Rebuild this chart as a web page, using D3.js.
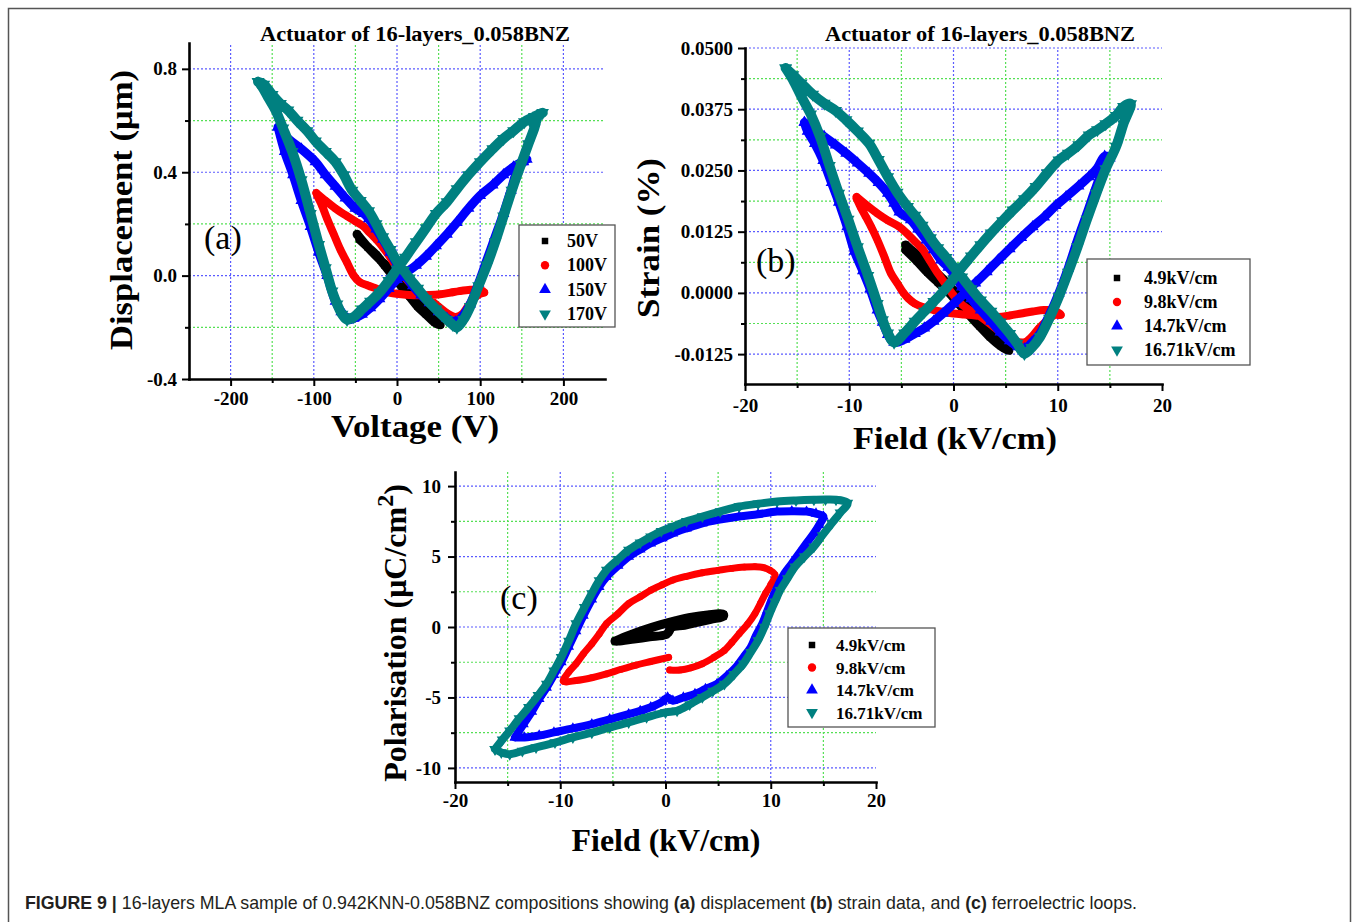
<!DOCTYPE html>
<html>
<head>
<meta charset="utf-8">
<script src="https://cdn.jsdelivr.net/npm/d3@7"></script>
<style>
  html, body { margin: 0; padding: 0; background: #fff; }
  svg { display: block; }
</style>
</head>
<body>
<svg id="fig" width="1357" height="922"></svg>
<script>
// ---------- data ----------
const voltageNames = ["50V", "100V", "150V", "170V"];
const fieldNames = ["4.9kV/cm", "9.8kV/cm", "14.7kV/cm", "16.71kV/cm"];
const seriesColors = ["#000000", "#ff0000", "#0000ff", "#008080"];

// (a) displacement (µm) vs voltage (V)
const disp50 = [[-48,0.16],[-35,0.11],[-20,0.06],[-10,0.03],[0,-0.01],[10,-0.05],[20,-0.09],[30,-0.12],[40,-0.15],[50,-0.18],[52,-0.19],
  [45,-0.18],[35,-0.15],[25,-0.12],[15,-0.08],[5,-0.04],[-5,0.0],[-15,0.04],[-25,0.08],[-35,0.11],[-45,0.14]];
const disp100 = [[-97,0.32],[-86,0.29],[-74,0.26],[-60,0.23],[-50,0.21],[-40,0.19],[-34,0.17],[-25,0.14],[-17,0.11],[-8,0.07],[0,0.03],[10,-0.01],
  [19,-0.04],[30,-0.07],[39,-0.09],[50,-0.12],[60,-0.145],[70,-0.16],[78,-0.15],[85,-0.12],[92,-0.09],[100,-0.07],[105,-0.065],[100,-0.055],
  [88,-0.055],[75,-0.06],[64,-0.066],[52,-0.072],[39,-0.075],[25,-0.076],[15,-0.075],[5,-0.072],[-5,-0.068],[-15,-0.062],[-25,-0.05],
  [-35,-0.038],[-45,-0.025],[-52,0.0],[-60,0.05],[-68,0.1],[-76,0.16],[-84,0.22],[-90,0.27],[-96,0.31]];
const disp150 = [[-143,0.575],[-131,0.53],[-115,0.49],[-98,0.44],[-86,0.39],[-74,0.345],[-62,0.3],[-50,0.26],[-40,0.24],[-34,0.22],[-25,0.18],
  [-17,0.14],[-8,0.09],[0,0.045],[10,0.0],[19,-0.04],[29,-0.075],[39,-0.105],[50,-0.14],[60,-0.165],[70,-0.18],[78,-0.16],[88,-0.11],
  [98,-0.03],[108,0.06],[118,0.15],[128,0.24],[137,0.33],[145,0.41],[152,0.44],[156,0.45],[150,0.44],[140,0.42],[128,0.39],[115,0.35],
  [100,0.31],[86,0.26],[72,0.205],[60,0.16],[47,0.115],[35,0.075],[23,0.04],[10,0.01],[0,-0.015],[-10,-0.05],[-21,-0.09],[-32,-0.125],
  [-42,-0.15],[-52,-0.165],[-58,-0.17],[-67,-0.14],[-74,-0.1],[-84,0.0],[-94,0.09],[-104,0.19],[-115,0.29],[-125,0.39],[-135,0.48],[-143,0.575]];
const disp170 = [[-167,0.75],[-160,0.74],[-150,0.7],[-140,0.665],[-131,0.64],[-120,0.6],[-108,0.56],[-98,0.52],[-86,0.48],[-74,0.44],
  [-64,0.39],[-54,0.33],[-44,0.29],[-34,0.25],[-25,0.2],[-17,0.15],[-8,0.1],[0,0.055],[8,0.02],[15,-0.01],[25,-0.05],[35,-0.09],[47,-0.13],
  [60,-0.17],[67,-0.19],[72,-0.2],[80,-0.17],[88,-0.12],[98,-0.04],[108,0.04],[118,0.13],[128,0.23],[138,0.33],[149,0.43],[158,0.51],
  [165,0.57],[170,0.62],[175,0.63],[165,0.615],[153,0.595],[140,0.56],[128,0.53],[115,0.49],[100,0.44],[86,0.39],[72,0.335],[60,0.285],
  [47,0.24],[35,0.185],[23,0.13],[10,0.07],[0,0.025],[-10,-0.02],[-21,-0.065],[-32,-0.1],[-42,-0.13],[-52,-0.16],[-60,-0.17],[-66,-0.15],
  [-72,-0.11],[-78,-0.06],[-86,0.03],[-94,0.12],[-104,0.24],[-115,0.37],[-126,0.48],[-137,0.57],[-146,0.64],[-155,0.69],[-162,0.73],[-167,0.75]];

// (b) strain (%) vs field (kV/cm)
const strain49 = [[-4.6,0.0098],[-3.8,0.0083],[-3,0.0068],[-2,0.0048],[-1,0.0028],[0,0.0005],[1,-0.0015],[2,-0.0038],[3,-0.006],[4,-0.0085],
  [5,-0.011],[5.3,-0.0118],[4.5,-0.0108],[3.5,-0.009],[2.5,-0.0068],[1.5,-0.0045],[0.5,-0.0022],[-0.5,0.0002],[-1.5,0.0022],[-2.5,0.0042],
  [-3.5,0.0065],[-4.6,0.0088]];
const strain98 = [[-9.3,0.0196],[-8.4,0.018],[-7.3,0.0162],[-6.3,0.0148],[-5.2,0.0135],[-4.4,0.012],[-3.7,0.0105],[-3,0.009],[-2.3,0.0067],
  [-1.5,0.004],[-0.8,0.0019],[0,-0.0005],[0.7,-0.0022],[1.4,-0.0033],[2.1,-0.0042],[3,-0.0055],[3.9,-0.007],[4.8,-0.0085],[5.7,-0.0097],
  [6.8,-0.0101],[7.5,-0.009],[8.2,-0.0072],[9,-0.0056],[9.7,-0.0045],[10.3,-0.0045],[9.6,-0.0036],[8.7,-0.0035],[7.6,-0.0038],[6.5,-0.0042],
  [5.4,-0.0046],[4.3,-0.0049],[3.2,-0.0048],[2.1,-0.0046],[1,-0.0044],[0,-0.0042],[-1,-0.0039],[-1.9,-0.0035],[-2.8,-0.003],[-3.7,-0.0022],
  [-4.3,-0.0012],[-4.8,0.0],[-5.4,0.002],[-6,0.004],[-6.6,0.0072],[-7.3,0.0108],[-7.9,0.0135],[-8.4,0.0155],[-8.9,0.0175],[-9.3,0.0193]];
const strain147 = [[-14.3,0.0348],[-13.4,0.0335],[-12.4,0.0319],[-11.3,0.0302],[-10.3,0.0285],[-9.2,0.0265],[-8.1,0.0244],[-7.2,0.0225],
  [-6.3,0.0203],[-5.7,0.0183],[-5.2,0.0165],[-4.1,0.0149],[-3.4,0.013],[-2.6,0.0108],[-1.9,0.0088],[-1.2,0.0067],[-0.5,0.0052],[0,0.004],
  [0.8,0.0012],[1.7,-0.0012],[2.6,-0.0035],[3.6,-0.0058],[4.5,-0.008],[5.4,-0.0098],[6.2,-0.011],[6.8,-0.0114],[7.5,-0.0102],[8.3,-0.0083],
  [9.2,-0.0045],[10.1,-0.0001],[11,0.005],[11.9,0.0108],[12.8,0.0162],[13.7,0.0217],[14.4,0.0255],[15,0.0275],[14.5,0.0279],[13.8,0.0255],
  [13,0.0237],[12,0.0218],[10.8,0.0196],[9.8,0.0178],[8.7,0.0155],[7.6,0.0135],[6.5,0.0113],[5.4,0.009],[4.3,0.0067],[3.2,0.0043],
  [2.1,0.002],[1,-0.0002],[0,-0.0022],[-1,-0.0042],[-1.9,-0.0058],[-2.8,-0.0072],[-3.7,-0.0083],[-4.7,-0.0095],[-5.7,-0.0101],[-6.3,-0.0085],
  [-6.8,-0.006],[-7.3,-0.0035],[-8,0.0008],[-8.7,0.0045],[-9.5,0.0085],[-10.2,0.0135],[-11,0.0185],[-11.7,0.0225],[-12.5,0.027],
  [-13.3,0.0305],[-14,0.033],[-14.3,0.0348]];
const strain1671 = [[-16.1,0.0459],[-15.4,0.0445],[-14.6,0.0428],[-13.5,0.0405],[-12.4,0.0387],[-11.3,0.0372],[-10.3,0.0353],[-9.2,0.033],
  [-8.1,0.0305],[-7.2,0.0272],[-6.3,0.0237],[-5.4,0.0205],[-4.4,0.0176],[-3.7,0.0158],[-3,0.0138],[-2.2,0.0112],[-1.5,0.0092],[-0.7,0.0072],
  [0,0.0053],[0.8,0.0032],[1.7,0.0008],[2.6,-0.0015],[3.6,-0.0038],[4.5,-0.006],[5.4,-0.0083],[6.1,-0.0103],[6.8,-0.0124],[7.5,-0.0112],
  [8.3,-0.009],[9.2,-0.0052],[10.1,-0.0008],[11,0.0042],[11.9,0.0094],[12.8,0.015],[13.7,0.0203],[14.6,0.0253],[15.6,0.0299],[16.3,0.0345],
  [17,0.0386],[16.3,0.038],[15.6,0.0362],[14.6,0.0345],[13.8,0.0333],[13,0.0322],[12,0.0302],[11,0.0285],[10.1,0.0271],[9,0.0245],
  [7.9,0.0217],[6.8,0.0192],[5.7,0.0169],[4.7,0.0147],[3.6,0.0122],[2.6,0.0098],[1.7,0.0075],[0.8,0.0052],[0,0.0028],[-0.9,0.0005],
  [-1.9,-0.0018],[-2.8,-0.0038],[-3.7,-0.0058],[-4.7,-0.0082],[-5.7,-0.0101],[-6.3,-0.0082],[-6.8,-0.0055],[-7.3,-0.0022],[-8.2,0.0035],
  [-9.2,0.0094],[-10.1,0.015],[-11,0.0203],[-11.9,0.026],[-12.8,0.0319],[-13.7,0.0365],[-14.6,0.0401],[-15.4,0.0435],[-16.1,0.0459]];

// (c) polarisation (µC/cm²) vs field (kV/cm)
const pol49 = [[-4.8,-1.0],[-3.5,-0.6],[-2,-0.2],[-0.5,0.15],[1,0.45],[2.5,0.7],[4,0.85],[5.5,0.9],[5.5,0.75],[4.3,0.55],[3,0.32],
  [1.8,0.12],[0.6,-0.02],[0.3,-0.35],[0,-0.55],[-1.5,-0.7],[-3,-0.85],[-4.5,-1.0],[-4.8,-1.0]];
const pol98 = [[0.3,-2.15],[-1.4,-2.45],[-2.8,-2.7],[-4.2,-3.0],[-5.6,-3.33],[-7,-3.6],[-8.5,-3.8],[-9.7,-3.85],[-9.2,-3.2],[-8.5,-2.61],
  [-7.8,-1.9],[-7,-1.19],[-6.3,-0.5],[-5.6,0.24],[-4.5,0.95],[-3.5,1.66],[-2.4,2.15],[-1.4,2.61],[-0.3,3.0],[0.7,3.33],[2,3.6],[3.5,3.85],
  [5,4.02],[6.3,4.16],[7.5,4.25],[8.5,4.28],[9.4,4.2],[9.9,4.04],[10.4,3.7],[10,3.0],[9.5,2.38],[9,1.65],[8.5,0.95],[7.8,0.2],[7,-0.48],
  [6.3,-1.1],[5.6,-1.66],[4.6,-2.15],[3.5,-2.61],[2.4,-2.9],[1.4,-3.05],[0.4,-3.05]];
const pol147 = [[-14.3,-7.84],[-13.5,-6.9],[-12.7,-6.0],[-12,-5.1],[-11.3,-4.3],[-10.6,-3.4],[-9.9,-2.5],[-9.2,-1.4],[-8.5,-0.3],[-7.8,0.8],
  [-7,1.95],[-6.3,2.85],[-5.6,3.56],[-4.5,4.35],[-3.5,4.99],[-2.4,5.5],[-1.4,5.94],[-0.3,6.3],[0.7,6.65],[2,7.0],[3.5,7.36],[5,7.6],[7,7.84],
  [8.8,8.0],[10.6,8.19],[12,8.22],[13.4,8.19],[14.3,8.05],[15,7.84],[14.6,7.25],[14.1,6.65],[13.4,5.95],[12.7,5.23],[12,4.5],[11.3,3.8],
  [10.7,2.95],[10.2,2.14],[9.7,1.2],[9.2,0.24],[8.6,-0.6],[8.1,-1.43],[7.4,-2.15],[6.7,-2.85],[5.8,-3.5],[4.9,-4.04],[3.8,-4.4],[2.8,-4.75],
  [1.7,-5.0],[0.7,-5.23],[0.2,-5.0],[-0.3,-5.3],[-1.4,-5.7],[-2.4,-5.95],[-3.5,-6.18],[-5.3,-6.55],[-7,-6.89],[-8.8,-7.2],[-10.6,-7.48],
  [-12,-7.7],[-13.4,-7.84],[-14.3,-7.84]];
const pol1671 = [[-16.2,-8.67],[-15.5,-8.0],[-14.8,-7.36],[-13.9,-6.5],[-13,-5.7],[-12.1,-4.85],[-11.3,-4.04],[-10.6,-3.1],[-9.9,-2.14],
  [-9.2,-1.0],[-8.5,0.24],[-7.7,1.4],[-7,2.38],[-6.3,3.3],[-5.6,4.04],[-4.5,4.8],[-3.5,5.46],[-2.4,5.98],[-1.4,6.41],[-0.4,6.8],[0.7,7.13],
  [2,7.5],[3.5,7.84],[5.2,8.2],[7,8.55],[8.8,8.75],[10.6,8.9],[12.4,8.98],[14.1,9.03],[15.2,9.05],[16.2,9.03],[17.3,8.8],[16.6,8.1],
  [15.8,7.36],[14.9,6.5],[14.1,5.7],[13.2,5.0],[12.3,4.28],[11.6,3.45],[10.9,2.61],[10.4,1.8],[9.9,0.95],[9.4,0.0],[8.8,-0.95],[8.1,-1.8],
  [7.4,-2.61],[6.5,-3.35],[5.6,-4.04],[4.5,-4.55],[3.5,-4.99],[2.3,-5.5],[1.1,-5.94],[0,-6.06],[-1.8,-6.41],[-3.5,-6.77],[-5.3,-7.13],
  [-7,-7.5],[-8.8,-7.84],[-10.5,-8.2],[-12.3,-8.55],[-13.6,-8.8],[-14.8,-9.03],[-15.6,-8.9],[-16.2,-8.67]];

// axis ticks
const voltTicks = [-200, -100, 0, 100, 200];
const voltMinor = [-150, -50, 50, 150];
const dispTicks = [-0.4, 0.0, 0.4, 0.8];
const dispMinor = [-0.2, 0.2, 0.6];
const fieldTicks = [-20, -10, 0, 10, 20];
const fieldMinor = [-15, -5, 5, 15];
const strainTicks = [-0.0125, 0, 0.0125, 0.025, 0.0375, 0.05];
const strainMinor = [-0.00625, 0.00625, 0.01875, 0.03125, 0.04375];
const polTicks = [-10, -5, 0, 5, 10];
const polMinor = [-7.5, -2.5, 2.5, 7.5];

const captionParts = [
  ["FIGURE 9 |", true], [" 16-layers MLA sample of 0.942KNN-0.058BNZ compositions showing ", false],
  ["(a)", true], [" displacement ", false], ["(b)", true], [" strain data, and ", false],
  ["(c)", true], [" ferroelectric loops.", false]
];

// ---------- drawing ----------
const svg = d3.select("#fig");
const SERIF = "'Liberation Serif','Times New Roman',serif";
const GRID_BLUE = "#5b5bff";
const GRID_GREEN = "#55e055";

svg.append("rect").attr("width", 1357).attr("height", 922).attr("fill", "#fff");
svg.append("rect")
  .attr("x", 8.5).attr("y", 8.5).attr("width", 1342).attr("height", 940)
  .attr("fill", "none").attr("stroke", "#555").attr("stroke-width", 1.5);

function symbolFor(i, size) {
  const types = [d3.symbolSquare, d3.symbolCircle, d3.symbolTriangle, d3.symbolTriangle];
  return d3.symbol().type(types[i]).size(size)();
}

function drawPanel(p) {
  const x = d3.scaleLinear().domain(p.xDomain).range(p.xRange);
  const y = d3.scaleLinear().domain(p.yDomain).range(p.yRange);
  const g = svg.append("g");
  const [y0, y1] = p.yRange;
  const [x0, x1] = p.xRange;

  // dotted grid: blue on major ticks, green on minor ticks
  const grid = g.append("g").attr("stroke-width", 1.2).attr("stroke-dasharray", "2,2");
  grid.selectAll(".vmaj").data(p.xTicks.filter(v => x(v) > x0 + 1 && x(v) < x1 - 1)).join("line")
    .attr("x1", d => x(d)).attr("x2", d => x(d)).attr("y1", y0).attr("y2", y1).attr("stroke", GRID_BLUE);
  grid.selectAll(".vmin").data(p.xMinor).join("line")
    .attr("x1", d => x(d)).attr("x2", d => x(d)).attr("y1", y0).attr("y2", y1).attr("stroke", GRID_GREEN);
  grid.selectAll(".hmaj").data(p.yTicks.filter(v => y(v) < y0 - 1)).join("line")
    .attr("y1", d => y(d)).attr("y2", d => y(d)).attr("x1", x0).attr("x2", x1).attr("stroke", GRID_BLUE);
  grid.selectAll(".hmin").data(p.yMinor).join("line")
    .attr("y1", d => y(d)).attr("y2", d => y(d)).attr("x1", x0).attr("x2", x1).attr("stroke", GRID_GREEN);

  // loops: thick band + markers at every point
  const line = d3.line().x(d => x(d[0])).y(d => y(d[1])).curve(d3.curveCatmullRom.alpha(0.5));
  p.series.forEach((s, i) => {
    const sg = g.append("g");
    sg.append("path").attr("d", line(s))
      .attr("fill", "none").attr("stroke", seriesColors[i])
      .attr("stroke-width", p.band[i]).attr("stroke-linejoin", "round").attr("stroke-linecap", "round");
    sg.selectAll("path.m").data(s).join("path").attr("class", "m")
      .attr("transform", d => `translate(${x(d[0])},${y(d[1])})` + (i === 3 ? " rotate(180)" : ""))
      .attr("d", symbolFor(i, p.markerSize[i]))
      .attr("fill", seriesColors[i]);
  });

  // axes
  const styleAxis = sel => {
    sel.select(".domain").attr("stroke", "#000").attr("stroke-width", 2.6).attr("stroke-linecap", "square");
    sel.selectAll(".tick line").attr("stroke", "#000").attr("stroke-width", 2);
    sel.selectAll(".tick text").attr("font-family", SERIF).attr("font-weight", "bold")
      .attr("font-size", p.tickFont).attr("fill", "#000");
  };
  g.append("g").attr("transform", `translate(0,${y0})`)
    .call(d3.axisBottom(x).tickValues(p.xMinor).tickSize(4).tickSizeOuter(0).tickFormat(""))
    .call(s => { s.select(".domain").remove(); s.selectAll(".tick line").attr("stroke", "#000").attr("stroke-width", 2); });
  g.append("g").attr("transform", `translate(${x0},0)`)
    .call(d3.axisLeft(y).tickValues(p.yMinor).tickSize(4).tickSizeOuter(0).tickFormat(""))
    .call(s => { s.select(".domain").remove(); s.selectAll(".tick line").attr("stroke", "#000").attr("stroke-width", 2); });
  g.append("g").attr("transform", `translate(0,${y0})`)
    .call(d3.axisBottom(x).tickValues(p.xTicks).tickSize(7).tickSizeOuter(0).tickPadding(p.xPad).tickFormat(p.xFmt))
    .call(styleAxis);
  g.append("g").attr("transform", `translate(${x0},0)`)
    .call(d3.axisLeft(y).tickValues(p.yTicks).tickSize(7).tickSizeOuter(0).tickPadding(p.yPad).tickFormat(p.yFmt))
    .call(styleAxis);

  // title
  if (p.title) {
    g.append("text").attr("x", p.title.x).attr("y", p.title.y).attr("text-anchor", "middle")
      .attr("font-family", SERIF).attr("font-weight", "bold").attr("font-size", 20)
      .attr("textLength", p.title.len).attr("lengthAdjust", "spacingAndGlyphs")
      .text(p.title.text);
  }
  // axis titles
  g.append("text").attr("x", p.xLabel.x).attr("y", p.xLabel.y).attr("text-anchor", "middle")
    .attr("font-family", SERIF).attr("font-weight", "bold").attr("font-size", 32)
    .attr("textLength", p.xLabel.len).attr("lengthAdjust", "spacingAndGlyphs")
    .text(p.xLabel.text);
  const yl = g.append("text")
    .attr("transform", `translate(${p.yLabel.x},${p.yLabel.y}) rotate(-90)`)
    .attr("text-anchor", "middle").attr("font-family", SERIF).attr("font-weight", "bold").attr("font-size", 32);
  if (p.yLabel.sup) {
    yl.append("tspan").text(p.yLabel.text);
    yl.append("tspan").attr("font-size", 24).attr("dy", -13).text(p.yLabel.sup);
    yl.append("tspan").attr("dy", 13).text(p.yLabel.after);
  } else {
    yl.attr("textLength", p.yLabel.len).attr("lengthAdjust", "spacingAndGlyphs").text(p.yLabel.text);
  }
  // panel letter
  g.append("text").attr("x", p.letter.x).attr("y", p.letter.y)
    .attr("font-family", SERIF).attr("font-size", 34).text(p.letter.text);

  // legend
  const L = p.legend;
  const lg = g.append("g");
  lg.append("rect").attr("x", L.x).attr("y", L.y).attr("width", L.w).attr("height", L.h)
    .attr("fill", "#fff").attr("stroke", "#555").attr("stroke-width", 1.3);
  L.names.forEach((name, i) => {
    const cy = L.y + L.first + i * L.step;
    lg.append("path")
      .attr("transform", `translate(${L.x + L.sym},${cy})` + (i === 3 ? " rotate(180)" : ""))
      .attr("d", symbolFor(i, [42, 55, 60, 60][i])).attr("fill", seriesColors[i]);
    lg.append("text").attr("x", L.x + L.txt).attr("y", cy + 6)
      .attr("font-family", SERIF).attr("font-weight", "bold").attr("font-size", L.font).text(name);
  });
}

// (a)
drawPanel({
  xDomain: [-250, 250], xRange: [189, 605],
  yDomain: [-0.4, 0.9], yRange: [379, 43],
  xTicks: voltTicks, xMinor: voltMinor, yTicks: dispTicks, yMinor: dispMinor,
  xFmt: d => String(d), yFmt: d => d.toFixed(1), xPad: 6, yPad: 5, tickFont: 19,
  series: [disp50, disp100, disp150, disp170], band: [9, 8, 9, 10], markerSize: [45, 40, 60, 70],
  title: { text: "Actuator of 16-layers_0.058BNZ", x: 415, y: 41, len: 310 },
  xLabel: { text: "Voltage (V)", x: 415, y: 437, len: 168 },
  yLabel: { text: "Displacement (μm)", x: 132, y: 210, len: 280 },
  letter: { text: "(a)", x: 204, y: 249 },
  legend: { x: 519, y: 225, w: 96, h: 102, first: 16, step: 24.3, sym: 26, txt: 48, font: 18, names: voltageNames }
});

// (b)
drawPanel({
  xDomain: [-20, 20], xRange: [745, 1162],
  yDomain: [-0.0186, 0.05], yRange: [384, 48],
  xTicks: fieldTicks, xMinor: fieldMinor, yTicks: strainTicks, yMinor: strainMinor,
  xFmt: d => String(d), yFmt: d => d.toFixed(4), xPad: 8, yPad: 5, tickFont: 19,
  series: [strain49, strain98, strain147, strain1671], band: [9, 8, 9, 10], markerSize: [45, 40, 60, 70],
  title: { text: "Actuator of 16-layers_0.058BNZ", x: 980, y: 41, len: 310 },
  xLabel: { text: "Field (kV/cm)", x: 955, y: 449, len: 204 },
  yLabel: { text: "Strain (%)", x: 659, y: 238, len: 160 },
  letter: { text: "(b)", x: 756, y: 272 },
  legend: { x: 1087, y: 259, w: 163, h: 106, first: 19, step: 24, sym: 30, txt: 57, font: 18, names: fieldNames }
});

// (c)
drawPanel({
  xDomain: [-20, 20], xRange: [455, 876],
  yDomain: [-11, 11], yRange: [782, 472],
  xTicks: fieldTicks, xMinor: fieldMinor, yTicks: polTicks, yMinor: polMinor,
  xFmt: d => String(d), yFmt: d => String(d), xPad: 5, yPad: 7, tickFont: 19,
  series: [pol49, pol98, pol147, pol1671], band: [9, 7, 8, 8], markerSize: [45, 36, 50, 55],
  title: null,
  xLabel: { text: "Field (kV/cm)", x: 666, y: 851, len: 189 },
  yLabel: { text: "Polarisation (μC/cm", sup: "2", after: ")", x: 406, y: 633 },
  letter: { text: "(c)", x: 500, y: 609 },
  legend: { x: 788, y: 628, w: 147, h: 99, first: 17, step: 22.5, sym: 24, txt: 48, font: 17, names: fieldNames }
});

// caption: measured, then squeezed horizontally to the reference width
const cap = svg.append("text").attr("x", 0).attr("y", 0)
  .attr("font-family", "'Liberation Sans Narrow','Liberation Sans',Arial,sans-serif")
  .attr("font-size", 18).attr("fill", "#231f20");
captionParts.forEach(([t, b]) => cap.append("tspan").attr("font-weight", b ? "bold" : "normal").text(t));
const capW = cap.node().getComputedTextLength();
cap.attr("transform", `translate(25,909) scale(${1113 / capW},1)`);
</script>
</body>
</html>
